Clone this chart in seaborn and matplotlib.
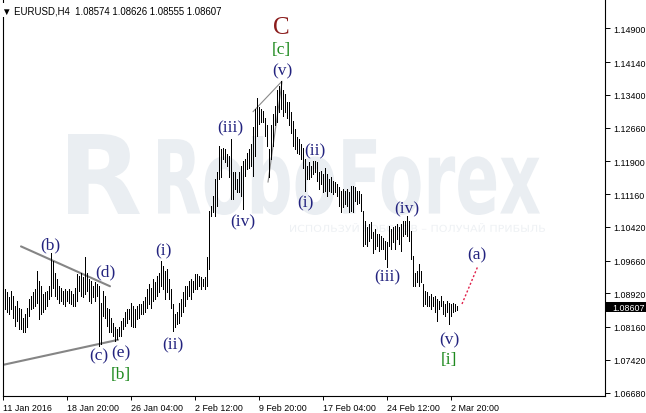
import matplotlib
matplotlib.use("Agg")
import matplotlib.pyplot as plt
import seaborn as sns
from matplotlib.textpath import TextPath
from matplotlib.patches import PathPatch, Rectangle
from matplotlib.font_manager import FontProperties
from matplotlib.transforms import Affine2D, IdentityTransform

# EURUSD H4 bars (high / low), one value per bar
highs = [
    1.0909, 1.0901, 1.0894, 1.0883, 1.0898, 1.0886, 1.0864, 1.0875, 1.0860, 1.0856,
    1.0837, 1.0845, 1.0860, 1.0879, 1.0886, 1.0894, 1.0901, 1.0943, 1.0920, 1.0909,
    1.0890, 1.0894, 1.0898, 1.0909, 1.0983, 1.0965, 1.0939, 1.0924, 1.0909, 1.0905,
    1.0898, 1.0901, 1.0898, 1.0901, 1.0898, 1.0890, 1.0905, 1.0935, 1.0932, 1.0939,
    1.0928, 1.0973, 1.0939, 1.0924, 1.0920, 1.0909, 1.0917, 1.0913, 1.0909, 1.0871,
    1.0898, 1.0886, 1.0860, 1.0856, 1.0837, 1.0826, 1.0815, 1.0811, 1.0815, 1.0830,
    1.0837, 1.0849, 1.0856, 1.0856, 1.0871, 1.0864, 1.0856, 1.0864, 1.0868, 1.0868,
    1.0875, 1.0883, 1.0901, 1.0913, 1.0905, 1.0924, 1.0917, 1.0932, 1.0939, 1.0966,
    1.0954, 1.0943, 1.0947, 1.0924, 1.0901, 1.0868, 1.0845, 1.0849, 1.0871, 1.0879,
    1.0894, 1.0909, 1.0909, 1.0920, 1.0924, 1.0920, 1.0935, 1.0935, 1.0932, 1.0928,
    1.0924, 1.0928, 1.0973, 1.1078, 1.1090, 1.1112, 1.1150, 1.1165, 1.1225, 1.1218,
    1.1221, 1.1218, 1.1207, 1.1203, 1.1240, 1.1165, 1.1165, 1.1150, 1.1165, 1.1180,
    1.1191, 1.1195, 1.1210, 1.1218, 1.1229, 1.1267, 1.1308, 1.1334, 1.1312, 1.1308,
    1.1304, 1.1289, 1.1271, 1.1218, 1.1271, 1.1297, 1.1316, 1.1350, 1.1361, 1.1372,
    1.1350, 1.1342, 1.1323, 1.1323, 1.1301, 1.1282, 1.1263, 1.1244, 1.1240, 1.1229,
    1.1221, 1.1195, 1.1180, 1.1188, 1.1180, 1.1191, 1.1191, 1.1188, 1.1165, 1.1169,
    1.1161, 1.1176, 1.1161, 1.1150, 1.1154, 1.1146, 1.1143, 1.1139, 1.1131, 1.1124,
    1.1128, 1.1124, 1.1128, 1.1120, 1.1135, 1.1135, 1.1131, 1.1124, 1.1124, 1.1116,
    1.1079, 1.1056, 1.1041, 1.1048, 1.1052, 1.1030, 1.1037, 1.1026, 1.1026, 1.1022,
    1.1018, 1.1011, 1.1007, 1.1045, 1.1037, 1.1041, 1.1045, 1.1048, 1.1041, 1.1048,
    1.1056, 1.1056, 1.1067, 1.1056, 1.1033, 1.0977, 1.0939, 1.0943, 1.0958, 1.0943,
    1.0913, 1.0898, 1.0894, 1.0887, 1.0890, 1.0883, 1.0887, 1.0879, 1.0875, 1.0887,
    1.0875, 1.0868, 1.0875, 1.0871, 1.0868, 1.0871, 1.0868, 1.08626,
]
lows = [
    1.0875, 1.0856, 1.0849, 1.0845, 1.0856, 1.0837, 1.0819, 1.0830, 1.0811, 1.0811,
    1.0804, 1.0804, 1.0815, 1.0841, 1.0856, 1.0860, 1.0864, 1.0871, 1.0834, 1.0845,
    1.0849, 1.0856, 1.0864, 1.0879, 1.0886, 1.0905, 1.0886, 1.0879, 1.0871, 1.0875,
    1.0868, 1.0864, 1.0875, 1.0871, 1.0868, 1.0864, 1.0864, 1.0875, 1.0898, 1.0886,
    1.0883, 1.0890, 1.0898, 1.0875, 1.0871, 1.0883, 1.0875, 1.0886, 1.0774, 1.0777,
    1.0841, 1.0837, 1.0819, 1.0804, 1.0804, 1.0796, 1.0785, 1.0789, 1.0796, 1.0796,
    1.0811, 1.0819, 1.0826, 1.0834, 1.0819, 1.0815, 1.0815, 1.0834, 1.0837, 1.0845,
    1.0845, 1.0849, 1.0860, 1.0868, 1.0860, 1.0875, 1.0879, 1.0886, 1.0894, 1.0909,
    1.0901, 1.0879, 1.0894, 1.0879, 1.0860, 1.0807, 1.0815, 1.0823, 1.0826, 1.0841,
    1.0849, 1.0864, 1.0879, 1.0886, 1.0879, 1.0894, 1.0901, 1.0901, 1.0909, 1.0901,
    1.0909, 1.0901, 1.0909, 1.0947, 1.1067, 1.1075, 1.1067, 1.1090, 1.1150, 1.1154,
    1.1195, 1.1188, 1.1180, 1.1154, 1.1105, 1.1105, 1.1127, 1.1120, 1.1120, 1.1112,
    1.1082, 1.1157, 1.1173, 1.1176, 1.1180, 1.1157, 1.1203, 1.1248, 1.1274, 1.1278,
    1.1278, 1.1248, 1.1225, 1.1154, 1.1195, 1.1225, 1.1271, 1.1278, 1.1301, 1.1308,
    1.1293, 1.1301, 1.1289, 1.1271, 1.1255, 1.1225, 1.1218, 1.1210, 1.1207, 1.1195,
    1.1176, 1.1124, 1.1150, 1.1150, 1.1154, 1.1161, 1.1165, 1.1146, 1.1127, 1.1139,
    1.1120, 1.1124, 1.1112, 1.1124, 1.1120, 1.1116, 1.1120, 1.1112, 1.1090, 1.1075,
    1.1086, 1.1094, 1.1090, 1.1075, 1.1079, 1.1075, 1.1101, 1.1094, 1.1097, 1.1079,
    1.1000, 1.1003, 1.1000, 1.1011, 1.1018, 1.0984, 1.0992, 1.1000, 1.0988, 1.0992,
    1.0992, 1.0969, 1.0951, 1.1000, 1.0992, 1.1007, 1.0992, 1.1015, 1.1003, 1.0988,
    1.1022, 1.1026, 1.1022, 1.1011, 1.0969, 1.0909, 1.0909, 1.0917, 1.0909, 1.0917,
    1.0864, 1.0868, 1.0864, 1.0864, 1.0856, 1.0864, 1.0849, 1.0830, 1.0856, 1.0864,
    1.0845, 1.0841, 1.0849, 1.0822, 1.0841, 1.0849, 1.0853, 1.08555,
]
last_price = 1.08607

price_ticks = [1.14900, 1.14140, 1.13400, 1.12660, 1.11900, 1.11160,
               1.10420, 1.09660, 1.08920, 1.08160, 1.07420, 1.06680]
date_bars = [0, 32, 64, 96, 128, 160, 192, 224]
date_labels = ["11 Jan 2016", "18 Jan 20:00", "26 Jan 04:00", "2 Feb 12:00",
               "9 Feb 20:00", "17 Feb 04:00", "24 Feb 12:00", "2 Mar 20:00"]

# wave labels: (text, bar, price, colour key)
wave_labels = [
    ("(b)", 23.5, 1.10034, "w"), ("(d)", 51, 1.09424, "w"),
    ("(c)", 48, 1.07520, "w"), ("(e)", 59, 1.07588, "w"),
    ("[b]", 59, 1.07091, "g"), ("(i)", 80, 1.09899, "w"),
    ("(ii)", 85, 1.07777, "w"), ("(iii)", 113.5, 1.12676, "w"),
    ("(iv)", 120, 1.10553, "w"), ("(v)", 139.5, 1.13963, "w"),
    ("[c]", 139, 1.14437, "g"), ("(i)", 151, 1.10983, "w"),
    ("(ii)", 156, 1.12157, "w"), ("(iii)", 192, 1.09312, "w"),
    ("(iv)", 202, 1.10848, "w"), ("(v)", 223, 1.07890, "w"),
    ("[i]", 223, 1.07438, "g"), ("(a)", 237, 1.09809, "w"),
]

sns.set_theme(style="white")
plt.rcParams["font.family"] = ["Liberation Sans", "DejaVu Sans"]

fig = plt.figure(figsize=(6.46, 4.14), dpi=100)
ax = fig.add_axes([2.5 / 646, 17 / 414, 602.5 / 646, 397 / 414])
ax.set_facecolor("white")


def stretched_text(ax, s, x0, y0, w, h, color, fp):
    # text squeezed into a pixel box (image coords, y from top)
    tp = TextPath((0, 0), s, size=1, prop=fp)
    bb = tp.get_extents()
    tr = (Affine2D().translate(-bb.x0, -bb.y0)
          .scale(w / bb.width, h / bb.height)
          .translate(x0, 414 - y0 - h))
    patch = PathPatch(tr.transform_path(tp), facecolor=color, edgecolor="none",
                      transform=IdentityTransform(), zorder=0)
    ax.add_patch(patch)


# watermark
stretched_text(ax, "R", 68, 135, 72, 80, "#EAEEF2",
               FontProperties(family="DejaVu Sans", weight="bold"))
stretched_text(ax, "RoboForex", 158, 137, 382, 79, "#EAEEF2",
               FontProperties(family="DejaVu Sans", weight="bold"))
stretched_text(ax, "ИСПОЛЬЗУЙ РОБОТОВ – ПОЛУЧАЙ ПРИБЫЛЬ", 290, 224, 255, 9,
               "#EEF1F4", FontProperties(family="DejaVu Sans"))

bars = list(range(len(highs)))
ax.vlines(bars, lows, highs, color="black", linewidth=0.5,
          antialiased=False, zorder=3)

# trend / wave lines
ax.plot([9, 53.5], [1.0998, 1.0908], color="#858585", lw=1.5, zorder=2)
ax.plot([-0.5, 57.5], [1.0730, 1.0787], color="#858585", lw=1.5, zorder=2)
ax.plot([125, 139.5], [1.1302, 1.1371], color="#8a8a8a", lw=0.8, zorder=2)
ax.plot([132.5, 139.5], [1.1143, 1.1369], color="#8a8a8a", lw=0.8, zorder=2)
ax.plot([229.5, 237.5], [1.0868, 1.0954], color="#E0204A", lw=1,
        ls=(0, (1.5, 1.5)), zorder=2)

colors = {"w": "#23237F", "g": "#1F8A1F"}
for txt, xb, yp, ck in wave_labels:
    ax.text(xb, yp, txt, ha="center", va="center", color=colors[ck],
            fontsize=12.5, family="Liberation Serif", zorder=4)
ax.text(139, 1.14934, "C", ha="center", va="center", color="#8B1C1C",
        fontsize=18, family="Liberation Serif", zorder=4)

ax.set_xlim(-0.25, 301.0)
ax.set_ylim(1.06602, 1.15566)

ax.yaxis.tick_right()
ax.set_yticks(price_ticks)
ax.set_yticklabels([f"{p:.5f}" for p in price_ticks])
ax.set_xticks(date_bars)
ax.set_xticklabels(date_labels)
for lab in ax.get_xticklabels():
    lab.set_ha("left")
ax.tick_params(axis="y", direction="out", length=3.5, width=0.7, pad=2.5,
               labelsize=6.4, colors="black", right=True, left=False)
ax.tick_params(axis="x", direction="out", length=3, width=0.7, pad=2,
               labelsize=6.4, colors="black", bottom=True)
for side in ["left", "right", "bottom"]:
    ax.spines[side].set_color("black")
    ax.spines[side].set_linewidth(0.8)
ax.spines["top"].set_visible(False)
ax.grid(False)

# current price box on the right scale
ax.add_patch(Rectangle((1.0, last_price - 0.00113), 41 / 602.5, 0.00226,
                       transform=ax.get_yaxis_transform(), clip_on=False,
                       facecolor="black", edgecolor="none", zorder=5))
ax.text(1.0116, last_price, f"{last_price:.5f}", transform=ax.get_yaxis_transform(),
        ha="left", va="center", color="white", fontsize=6.4, zorder=6)

fig.text(2 / 646, 1 - 11 / 414, "▼ EURUSD,H4  1.08574 1.08626 1.08555 1.08607",
         ha="left", va="center", fontsize=6.9, color="black",
         bbox=dict(facecolor="white", edgecolor="none", pad=1.5))

fig.savefig("out.png", dpi=100)
